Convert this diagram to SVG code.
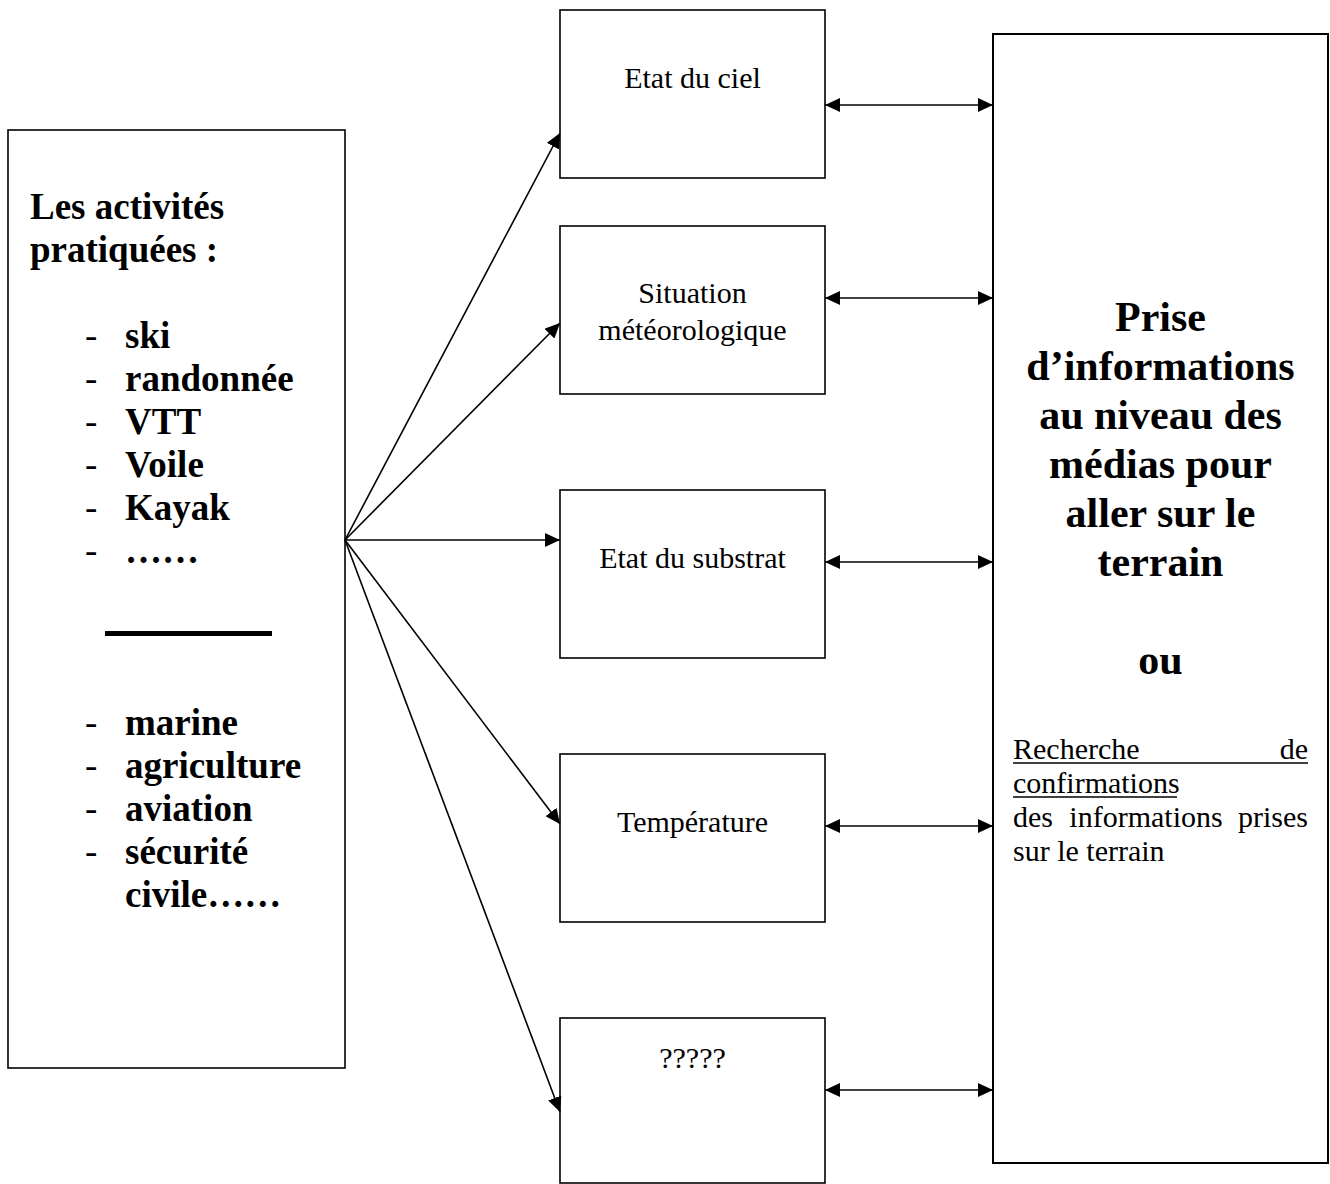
<svg xmlns="http://www.w3.org/2000/svg" width="1330" height="1184" viewBox="0 0 1330 1184">
<style>
.box{fill:#fff;stroke:#000;stroke-width:1.6}
.bold{font-family:"Liberation Serif","Times New Roman",serif;font-weight:bold;fill:#000}
.reg{font-family:"Liberation Serif","Times New Roman",serif;font-size:30px;fill:#000}
.dash{font-family:"Liberation Serif","Times New Roman",serif;font-size:37px;fill:#000}
.lb{font-size:37px}
.rb{font-size:42px}
.mid{text-anchor:middle}
.con{stroke:#000;stroke-width:1.6;fill:none}
</style>
<defs>
<marker id="ah" markerUnits="userSpaceOnUse" markerWidth="16" markerHeight="14" refX="15" refY="7" orient="auto-start-reverse">
<path d="M0,0 L15,7 L0,14 z" fill="#000"/>
</marker>
</defs>
<rect width="1330" height="1184" fill="#fff"/>

<g id="activites">
<rect class="box" x="8" y="130" width="337" height="938"/>
<text class="bold lb" x="30" y="219">Les activités</text>
<text class="bold lb" x="30" y="262">pratiquées :</text>
<g class="dash">
<text x="85" y="348">-</text>
<text x="85" y="391">-</text>
<text x="85" y="434">-</text>
<text x="85" y="477">-</text>
<text x="85" y="520">-</text>
<text x="85" y="563">-</text>
<text x="85" y="735">-</text>
<text x="85" y="778">-</text>
<text x="85" y="821">-</text>
<text x="85" y="864">-</text>
</g>
<g class="bold lb">
<text x="125" y="348">ski</text>
<text x="125" y="391">randonnée</text>
<text x="125" y="434">VTT</text>
<text x="125" y="477">Voile</text>
<text x="125" y="520">Kayak</text>
<text x="125" y="563">……</text>
</g>
<rect x="105" y="631" width="167" height="5" fill="#000"/>
<g class="bold lb">
<text x="125" y="735">marine</text>
<text x="125" y="778">agriculture</text>
<text x="125" y="821">aviation</text>
<text x="125" y="864">sécurité</text>
<text x="125" y="907">civile……</text>
</g>
</g>

<g id="ciel">
<rect class="box" x="560" y="10" width="265" height="168"/>
<text class="reg mid" x="692.5" y="88">Etat du ciel</text>
</g>
<g id="situation">
<rect class="box" x="560" y="226" width="265" height="168"/>
<text class="reg mid" x="692.5" y="303">Situation</text>
<text class="reg mid" x="692.5" y="340">météorologique</text>
</g>
<g id="substrat">
<rect class="box" x="560" y="490" width="265" height="168"/>
<text class="reg mid" x="692.5" y="568">Etat du substrat</text>
</g>
<g id="temperature">
<rect class="box" x="560" y="754" width="265" height="168"/>
<text class="reg mid" x="692.5" y="832">Température</text>
</g>
<g id="inconnu">
<rect class="box" x="560" y="1018" width="265" height="165"/>
<text class="reg mid" x="692.5" y="1068">?????</text>
</g>

<g id="prise">
<rect class="box" x="993" y="34" width="335" height="1129" style="stroke-width:2"/>
<g class="bold rb mid">
<text x="1160.5" y="331">Prise</text>
<text x="1160.5" y="380">d’informations</text>
<text x="1160.5" y="429">au niveau des</text>
<text x="1160.5" y="478">médias pour</text>
<text x="1160.5" y="527">aller sur le</text>
<text x="1160.5" y="576">terrain</text>
<text x="1160.5" y="674">ou</text>
</g>
<text class="reg" x="1013" y="759">Recherche</text>
<text class="reg" x="1308" y="759" text-anchor="end">de</text>
<line x1="1013" y1="763" x2="1308" y2="763" stroke="#000" stroke-width="1.5"/>
<text class="reg" x="1013" y="793">confirmations</text>
<line x1="1013" y1="797" x2="1177" y2="797" stroke="#000" stroke-width="1.5"/>
<text class="reg" x="1013" y="827">des</text>
<text class="reg mid" x="1146" y="827">informations</text>
<text class="reg" x="1308" y="827" text-anchor="end">prises</text>
<text class="reg" x="1013" y="861">sur le terrain</text>
</g>

<g id="connecteurs">
<line class="con" x1="345" y1="540" x2="560" y2="133" marker-end="url(#ah)"/>
<line class="con" x1="345" y1="540" x2="560" y2="323" marker-end="url(#ah)"/>
<line class="con" x1="345" y1="540" x2="560" y2="540" marker-end="url(#ah)"/>
<line class="con" x1="345" y1="540" x2="560" y2="824" marker-end="url(#ah)"/>
<line class="con" x1="345" y1="540" x2="560" y2="1112" marker-end="url(#ah)"/>
<line class="con" x1="825" y1="105" x2="993" y2="105" marker-start="url(#ah)" marker-end="url(#ah)"/>
<line class="con" x1="825" y1="298" x2="993" y2="298" marker-start="url(#ah)" marker-end="url(#ah)"/>
<line class="con" x1="825" y1="562" x2="993" y2="562" marker-start="url(#ah)" marker-end="url(#ah)"/>
<line class="con" x1="825" y1="826" x2="993" y2="826" marker-start="url(#ah)" marker-end="url(#ah)"/>
<line class="con" x1="825" y1="1090" x2="993" y2="1090" marker-start="url(#ah)" marker-end="url(#ah)"/>
</g>
</svg>
